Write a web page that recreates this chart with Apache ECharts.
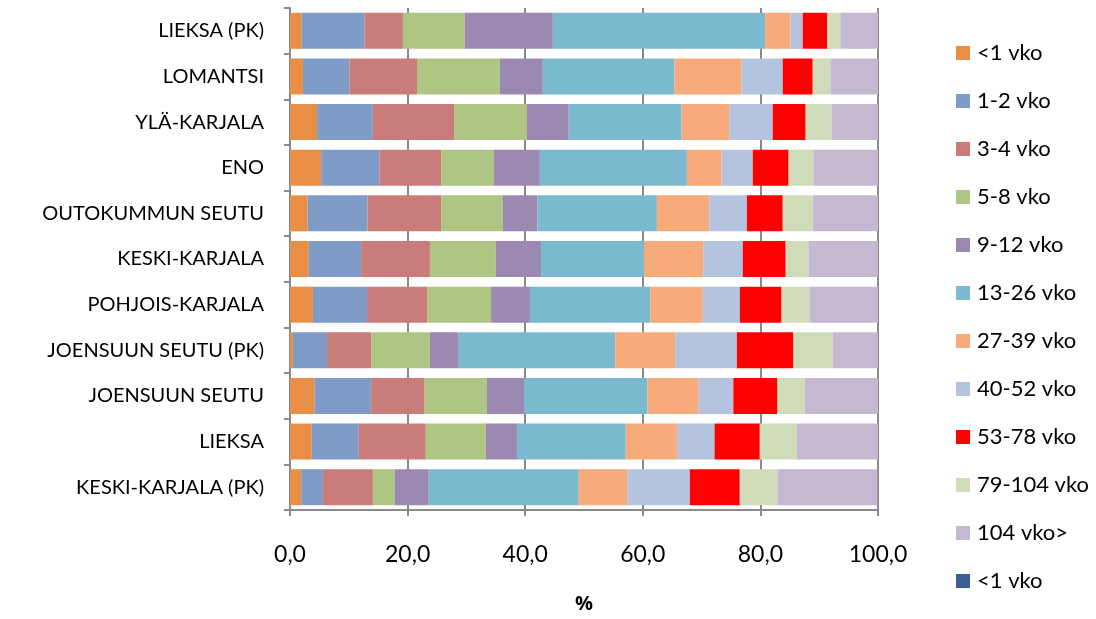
<!DOCTYPE html>
<html>
<head>
<meta charset="utf-8">
<script src="https://cdn.jsdelivr.net/npm/echarts@6/dist/echarts.min.js"></script>
<style>
  html, body { margin: 0; padding: 0; background: #fff; }
  #chart { width: 1096px; height: 619px; }
</style>
</head>
<body>
<div id="chart"></div>
<script>
// alueet ylhäältä alas
const categories = [
  "LIEKSA (PK)", "LOMANTSI", "YLÄ-KARJALA", "ENO", "OUTOKUMMUN SEUTU",
  "KESKI-KARJALA", "POHJOIS-KARJALA", "JOENSUUN SEUTU (PK)", "JOENSUUN SEUTU",
  "LIEKSA", "KESKI-KARJALA (PK)"
];
const seriesNames = [
  "<1 vko", "1-2 vko", "3-4 vko", "5-8 vko", "9-12 vko", "13-26 vko",
  "27-39 vko", "40-52 vko", "53-78 vko", "79-104 vko", "104 vko>"
];
const xTicks = ["0,0", "20,0", "40,0", "60,0", "80,0", "100,0"];

// osuudet (%) per alue, sarakkeet kuten seriesNames
const v1 = [2.0, 2.2, 4.6, 5.3, 3.0, 3.2, 3.9, 0.5, 4.2, 3.7, 1.9];
const v2 = [10.7, 7.9, 9.5, 9.9, 10.2, 8.9, 9.2, 5.8, 9.6, 8.0, 3.7];
const v3 = [6.5, 11.5, 13.8, 10.5, 12.5, 11.7, 10.3, 7.5, 9.1, 11.4, 8.5];
const v4 = [10.5, 14.1, 12.4, 9.0, 10.5, 11.2, 10.8, 10.0, 10.6, 10.2, 3.7];
const v5 = [15.0, 7.3, 7.1, 7.8, 5.9, 7.7, 6.6, 4.9, 6.3, 5.3, 5.8];
const v6 = [36.1, 22.4, 19.2, 25.0, 20.3, 17.5, 20.5, 26.6, 21.0, 18.5, 25.5];
const v7 = [4.3, 11.4, 8.1, 5.9, 8.9, 10.1, 8.9, 10.2, 8.7, 8.7, 8.3];
const v8 = [2.1, 7.0, 7.4, 5.3, 6.4, 6.7, 6.3, 10.5, 5.9, 6.4, 10.6];
const v9 = [4.2, 5.1, 5.6, 6.1, 6.1, 7.3, 7.1, 9.6, 7.5, 7.7, 8.5];
const v10 = [2.2, 3.0, 4.4, 4.2, 5.1, 3.9, 4.8, 6.7, 4.6, 6.3, 6.4];
const v11 = [6.4, 8.1, 7.9, 11.0, 11.1, 11.8, 11.6, 7.7, 12.5, 13.8, 17.0];
const values = [v1, v2, v3, v4, v5, v6, v7, v8, v9, v10, v11];

const colors = [
  "#e88e45", "#7f9bc7", "#ca7c7b", "#aec584", "#9c89b2", "#7bb9cf",
  "#f8ab7a", "#b4c3de", "#ff0000", "#cfdbb9", "#c4b9d0", "#3b5f91"
];

let chart = echarts.init(document.getElementById("chart"));
const font = "Lato";

let series = seriesNames.map((name, i) => ({
  name: name,
  type: "bar",
  stack: "total",
  barWidth: 36,
  data: values[i],
  itemStyle: { color: colors[i] }
}));
// tyhjä ylimääräinen sarja, näkyy vain selitteessä
series.push({
  name: "<1 vko ",
  type: "bar",
  stack: "total",
  data: categories.map(() => 0),
  itemStyle: { color: colors[11] }
});

let option = {
  animation: false,
  textStyle: { fontFamily: font },
  grid: { left: 290, right: 218, top: 8, bottom: 107 },
  legend: {
    orient: "vertical",
    left: 951,
    top: 36,
    itemWidth: 14,
    itemHeight: 14,
    itemGap: 24,
    icon: "rect",
    textStyle: { fontFamily: font, fontSize: 22, lineHeight: 24, color: "#000", padding: [0, 0, 0, 2] },
    data: seriesNames.concat(["<1 vko "])
  },
  xAxis: {
    type: "value",
    min: 0,
    max: 100,
    interval: 20,
    name: "%",
    nameLocation: "middle",
    nameGap: 84,
    nameTextStyle: { fontFamily: "Open Sans", fontSize: 20, fontWeight: "bold", color: "#000" },
    axisLine: { show: true, lineStyle: { color: "#8a8a8a", width: 2 } },
    axisTick: { show: true, length: 6, lineStyle: { color: "#8a8a8a", width: 2 } },
    axisLabel: {
      fontFamily: font, fontSize: 23, color: "#000", margin: 33,
      formatter: (v) => xTicks[Math.round(v / 20)]
    },
    splitLine: { show: true, lineStyle: { color: "#8a8a8a", width: 2 } }
  },
  yAxis: {
    type: "category",
    data: categories,
    inverse: true,
    axisLine: { show: true, lineStyle: { color: "#8a8a8a", width: 2 } },
    axisTick: { show: true, length: 6, inside: false, lineStyle: { color: "#8a8a8a", width: 2 } },
    axisLabel: { fontFamily: font, fontSize: 20, color: "#000", margin: 26 }
  },
  series: series
};

chart.setOption(option);
</script>
</body>
</html>
